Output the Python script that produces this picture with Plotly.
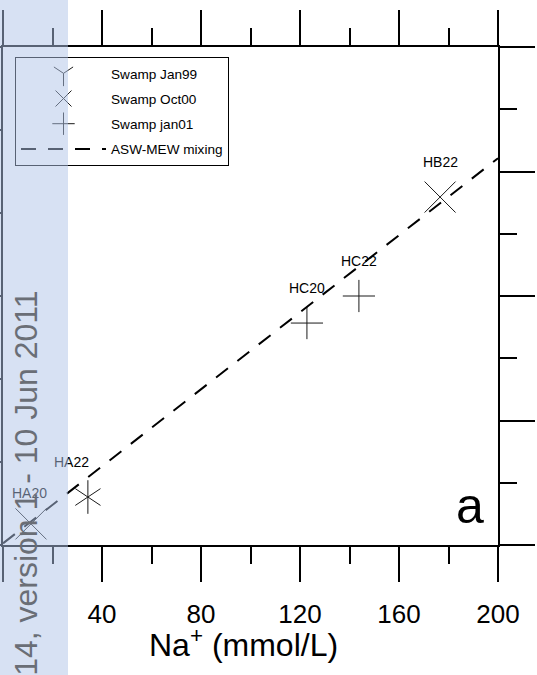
import plotly.graph_objects as go

# ---- data ----
na_jan99 = [34.3]
cl_jan99 = [28.9]
lab_jan99 = ["HA22"]

na_oct00 = [11.3, 176.6]
cl_oct00 = [12.7, 209.6]
lab_oct00 = ["HA20", "HB22"]

na_jan01 = [122.8, 143.8]
cl_jan01 = [133.7, 150.0]
lab_jan01 = ["HC20", "HC22"]

mix_na = [0, 200]
mix_cl = [1, 233]

x_ticks = [0, 40, 80, 120, 160, 200]

FONT = "Liberation Sans, Arial, sans-serif"
MK = "#1a1a1a"

fig = go.Figure()

# empty trace so that the right-hand axis gets drawn
fig.add_trace(go.Scatter(x=[], y=[], yaxis="y2", mode="markers", showlegend=False,
                         hoverinfo="skip"))

fig.add_trace(go.Scatter(
    x=na_jan99, y=cl_jan99, mode="markers", name="Swamp Jan99",
    marker=dict(symbol="y-down-open", size=21, color=MK, line=dict(color=MK, width=1)),
    legendgroup="g1", legendrank=1))
fig.add_trace(go.Scatter(
    x=na_jan99, y=cl_jan99, mode="markers", name="Swamp Jan99",
    marker=dict(symbol="y-up-open", size=21, color=MK, line=dict(color=MK, width=1)),
    legendgroup="g1", showlegend=False))

fig.add_trace(go.Scatter(
    x=na_oct00, y=cl_oct00, mode="markers", name="Swamp Oct00",
    marker=dict(symbol="x-thin-open", size=31, color=MK, line=dict(color=MK, width=1)),
    legendgroup="g2", legendrank=2))

fig.add_trace(go.Scatter(
    x=na_jan01, y=cl_jan01, mode="markers", name="Swamp jan01",
    marker=dict(symbol="cross-thin-open", size=23, color=MK, line=dict(color=MK, width=1)),
    legendgroup="g3", legendrank=3))

fig.add_trace(go.Scatter(
    x=mix_na, y=mix_cl, mode="lines", name="ASW-MEW mixing",
    line=dict(color="black", width=2, dash="15px,12px"),
    legendgroup="g4", legendrank=4))

annotations = []
# point labels
label_shift = {"HA22": (-16, 35), "HA20": (-1, 31)}
for xs, ys, ls in [(na_jan99, cl_jan99, lab_jan99), (na_oct00, cl_oct00, lab_oct00),
                   (na_jan01, cl_jan01, lab_jan01)]:
    for xv, yv, lv in zip(xs, ys, ls):
        dx, dy = label_shift.get(lv, (0, 35))
        annotations.append(dict(x=xv, y=yv, xref="x", yref="y", text=lv, showarrow=False,
                                xshift=dx, yshift=dy,
                                font=dict(family=FONT, size=14, color="black")))

# axis title
annotations.append(dict(x=0.486, y=-0.196, xref="paper", yref="paper",
                        text="Na<sup>+</sup> (mmol/L)", showarrow=False,
                        xanchor="center", yanchor="middle",
                        font=dict(family=FONT, size=32, color="black")))
# panel letter
annotations.append(dict(x=0.9434, y=0.078, xref="paper", yref="paper", text="a",
                        showarrow=False, xanchor="center", yanchor="middle",
                        font=dict(family=FONT, size=50, color="black")))
# translucent side band
annotations.append(dict(x=-3 / 495, y=0.4167, xref="paper", yref="paper", text=" ",
                        showarrow=False, xanchor="left", yanchor="middle",
                        width=68, height=690, borderpad=0, borderwidth=0,
                        bgcolor="rgba(176,196,232,0.5)"))
# band text
annotations.append(dict(x=23 / 495, y=1 - (288 - 47) / 498, xref="paper", yref="paper",
                        text="hal-00600814, version 1 - 10 Jun 2011", textangle=-90,
                        showarrow=False, xanchor="center", yanchor="top",
                        font=dict(family=FONT, size=32, color="#6a6e76")))

fig.update_layout(
    width=537, height=675,
    margin=dict(l=3, r=39, t=47, b=130, autoexpand=False),
    paper_bgcolor="white", plot_bgcolor="white",
    font=dict(family=FONT, color="black"),
    showlegend=True,
    legend=dict(x=12 / 495, y=1 - 10 / 498, xanchor="left", yanchor="top",
                bgcolor="white", bordercolor="black", borderwidth=1,
                itemwidth=85, font=dict(family=FONT, size=13.6, color="black"),
                traceorder="grouped", tracegroupgap=4.5),
    xaxis=dict(range=[0, 200], tickmode="array", tickvals=x_ticks, automargin=False,
               ticks="outside", ticklen=35, tickwidth=2, tickcolor="black",
               ticklabelstandoff=10,
               showline=True, linewidth=2, linecolor="black", mirror="ticks",
               showgrid=False, zeroline=False,
               tickfont=dict(family=FONT, size=26, color="black"),
               minor=dict(dtick=20, tick0=0, ticks="outside", ticklen=17, tickwidth=2,
                          tickcolor="black", showgrid=False)),
    yaxis=dict(range=[0, 300], dtick=50, tick0=0, ticks="outside", ticklen=30, tickwidth=2,
               tickcolor="black", showline=True, linewidth=2, linecolor="black",
               automargin=False,
               showticklabels=False, showgrid=False, zeroline=False),
    yaxis2=dict(range=[0, 8], dtick=2, tick0=0, overlaying="y", side="right", anchor="x",
                ticks="outside", ticklen=35, tickwidth=2, tickcolor="black",
                showline=True, linewidth=2, linecolor="black", automargin=False,
                showticklabels=False, showgrid=False, zeroline=False,
                minor=dict(dtick=1, tick0=0, ticks="outside", ticklen=17, tickwidth=2,
                           tickcolor="black", showgrid=False)),
    annotations=annotations,
)

fig.write_html("out.html", config={"displayModeBar": False},
               post_script="document.body.style.margin='0px';document.body.style.overflow='hidden';")
